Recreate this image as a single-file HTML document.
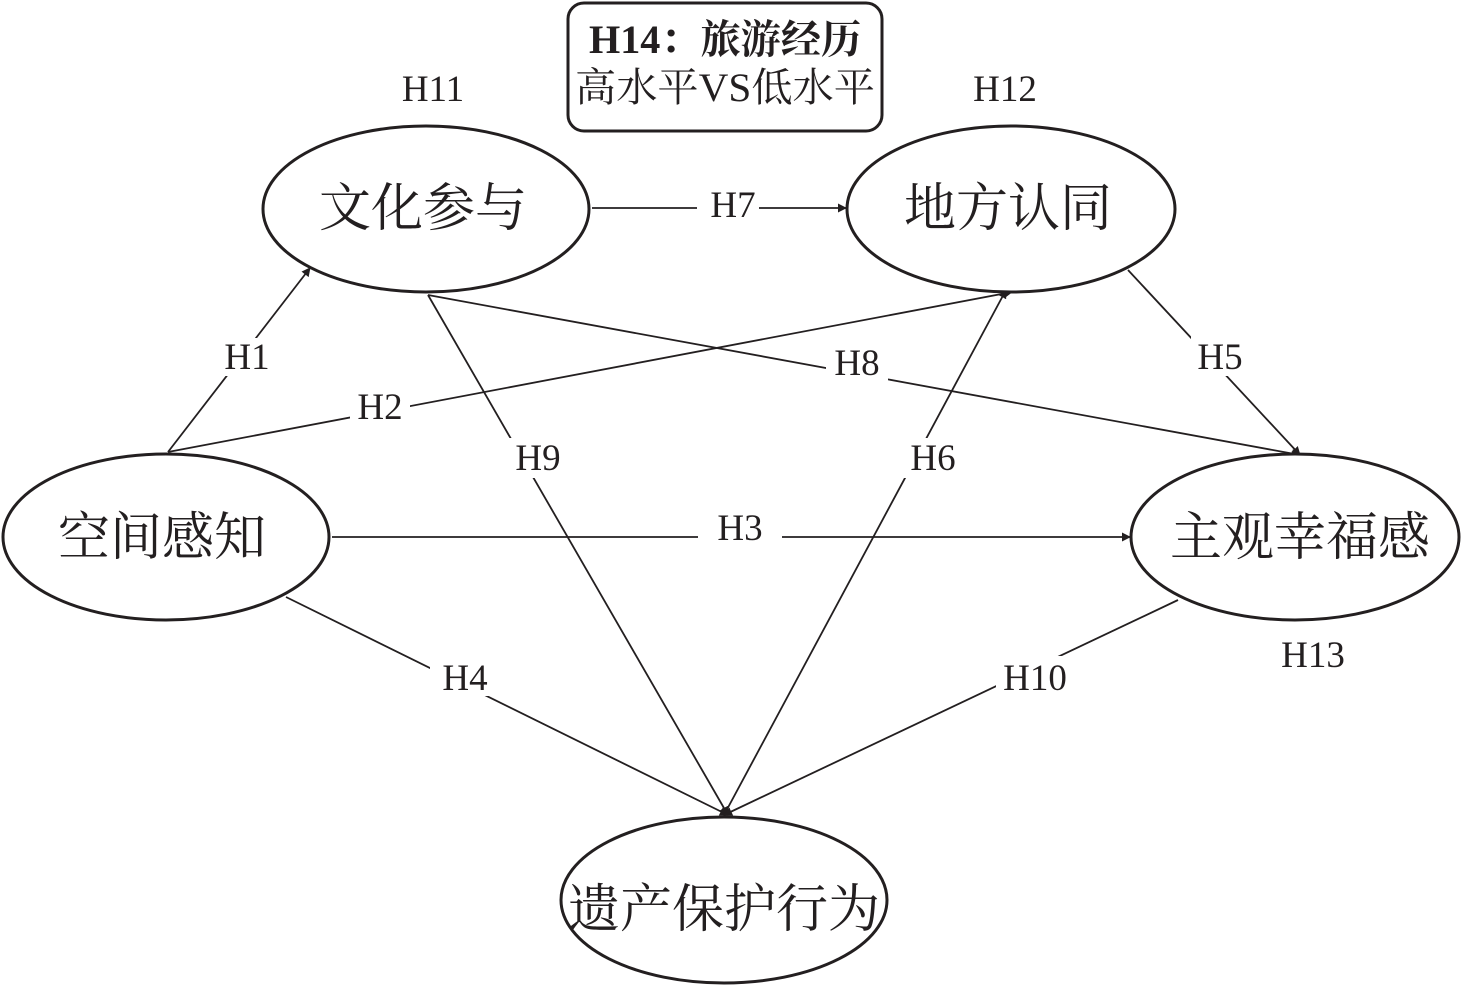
<!DOCTYPE html>
<html><head><meta charset="utf-8"><style>
html,body{margin:0;padding:0;background:#fff;}
svg{display:block;}
text{font-family:"Liberation Serif","Noto Serif CJK SC",serif;fill:#231f20;}
</style></head><body>
<svg width="1462" height="986" viewBox="0 0 1462 986" xmlns="http://www.w3.org/2000/svg">
<defs>
<marker id="a" viewBox="0 0 10 10" refX="9" refY="5" markerWidth="9" markerHeight="9" markerUnits="userSpaceOnUse" orient="auto">
<path d="M0,0 L10,5 L0,10 z" fill="#231f20"/></marker>
</defs>
<g stroke="#231f20" stroke-width="1.8" fill="none" marker-end="url(#a)">
<line x1="592" y1="208" x2="846" y2="208"/>
<line x1="168" y1="452" x2="310" y2="268"/>
<line x1="168" y1="452" x2="1012" y2="292"/>
<line x1="332" y1="537" x2="1130" y2="537"/>
<line x1="286" y1="597" x2="728" y2="815"/>
<line x1="1128" y1="270" x2="1300" y2="455"/>
<line x1="724" y1="815" x2="1006" y2="290"/>
<line x1="428" y1="295" x2="1300" y2="455"/>
<line x1="428" y1="295" x2="728" y2="815"/>
<line x1="1178" y1="600" x2="724" y2="815"/>
</g>
<g fill="#fff">
<rect x="697" y="186" width="62" height="40"/>
<rect x="220" y="338" width="54" height="38"/>
<rect x="350" y="388" width="60" height="38"/>
<rect x="698" y="508" width="84" height="38"/>
<rect x="430" y="656" width="70" height="40"/>
<rect x="1191" y="336" width="58" height="40"/>
<rect x="903" y="438" width="60" height="40"/>
<rect x="826" y="344" width="62" height="38"/>
<rect x="508" y="438" width="60" height="40"/>
<rect x="996" y="656" width="78" height="40"/>
</g>
<g font-size="37" text-anchor="middle">
<text x="733" y="217">H7</text>
<text x="247" y="369">H1</text>
<text x="380" y="419">H2</text>
<text x="740" y="540">H3</text>
<text x="465" y="690">H4</text>
<text x="1220" y="369">H5</text>
<text x="933" y="470">H6</text>
<text x="857" y="375">H8</text>
<text x="538" y="470">H9</text>
<text x="1035" y="690">H10</text>
<text x="433" y="101">H11</text>
<text x="1005" y="101">H12</text>
<text x="1313" y="667">H13</text>
</g>
<g stroke="#231f20" stroke-width="3" fill="#fff">
<ellipse cx="426" cy="209" rx="163" ry="83"/>
<ellipse cx="1011" cy="209" rx="164" ry="83"/>
<ellipse cx="166" cy="537" rx="163" ry="83"/>
<ellipse cx="1295" cy="537" rx="164" ry="83"/>
<ellipse cx="724" cy="900" rx="163" ry="83"/>
<rect x="568" y="3" width="314" height="128" rx="16"/>
</g>
<g font-size="52" text-anchor="middle">
<text x="423" y="226">文化参与</text>
<text x="1008" y="226">地方认同</text>
<text x="162" y="555">空间感知</text>
<text x="1300" y="555">主观幸福感</text>
<text x="724" y="927">遗产保护行为</text>
</g>
<g font-size="40" text-anchor="middle">
<text x="725" y="53" font-weight="bold" textLength="272" lengthAdjust="spacingAndGlyphs">H14：旅游经历</text>
<text x="725" y="101" textLength="300" lengthAdjust="spacingAndGlyphs">高水平VS低水平</text>
</g>
</svg>
</body></html>
